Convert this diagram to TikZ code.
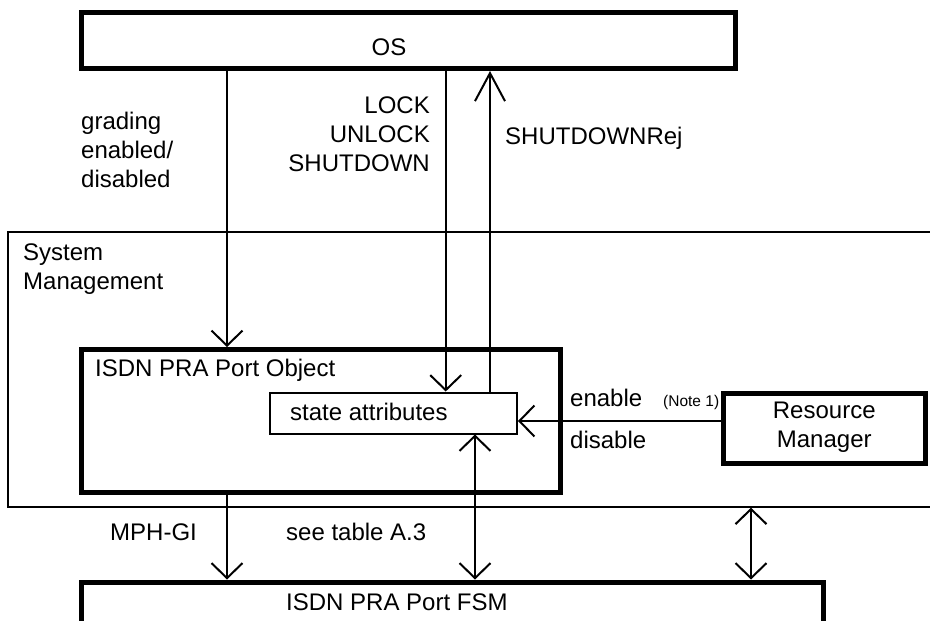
\documentclass[tikz,border=0pt]{standalone}
\usepackage{fontspec}
\setmainfont{Liberation Sans}
\usetikzlibrary{arrows.meta,positioning,fit}

\begin{document}
\begin{tikzpicture}[
    x=1pt, y=-1pt,
    every node/.style={font={\fontsize{24}{29}\selectfont}, inner sep=0pt},
    heavybox/.style={draw, rectangle, line width=5pt},
    lightbox/.style={draw, rectangle, line width=2pt},
    msg/.style={line width=2pt, -{Straight Barb[length=15pt,width=31pt]}},
    dmsg/.style={line width=2pt, {Straight Barb[length=15pt,width=31pt]}-{Straight Barb[length=15pt,width=31pt]}},
    longmsg/.style={line width=2pt, -{Straight Barb[length=28pt,width=30pt]}},
    txt/.style={align=left}
  ]
  \useasboundingbox (0,0) rectangle (930,621);
  \clip (0,0) rectangle (930,621);

  % boxes
  \node[heavybox, fit={(81.5,12.5) (735,68.5)},
  label={[anchor=base, xshift=310pt, yshift=-45pt]north west:OS}] (os) {};

  \node[lightbox, fit={(8,232) (960,506.7)},
  label={[anchor=north west, align=left, xshift=16pt, yshift=-12.3pt]north west:{System\\Management}}] (sm) {};

  \node[heavybox, fit={(81.5,349.5) (560.5,492.5)},
  label={[anchor=base west, xshift=16pt, yshift=-29.7pt]north west:{ISDN PRA Port Object}}] (port) {};

  \node[lightbox, fit={(270,392.5) (517,433.5)},
  label={[anchor=base west, xshift=21pt, yshift=-29.2pt]north west:{state attributes}}] (state) {};

  \node[heavybox, fit={(723.5,393.5) (925,463.5)},
  label={[anchor=north, align=center, yshift=-10.5pt]north:{Resource\\Manager}}] (rm) {};

  \node[heavybox, fit={(81.5,582) (823,670)},
  label={[anchor=base west, xshift=207pt, yshift=-30.5pt]north west:{ISDN PRA Port FSM}}] (fsm) {};

  % where the connectors run
  \coordinate (gradx) at (227,0);
  \coordinate (lockx) at (445.7,0);
  \coordinate (rejx) at (490,0);
  \coordinate (tablex) at (475,0);
  \coordinate (rmx) at (751,0);
  \coordinate (sigy) at (0,421);

  \draw[msg] (gradx |- os.south) -- (gradx |- port.north);
  \draw[msg] (lockx |- os.south) -- (lockx |- state.north);
  \draw[longmsg] (rejx |- state.north) -- (rejx |- os.south);
  \draw[msg] (rm.west |- sigy) -- (state.east |- sigy);
  \draw[msg] (gradx |- port.south) -- (gradx |- fsm.north);
  \draw[dmsg] (tablex |- state.south) -- (tablex |- fsm.north);
  \draw[dmsg] (rmx |- sm.south) -- (rmx |- fsm.north);

  % signal names
  \node[txt, anchor=north west] (gradlbl) at (81,111.5) {grading\\enabled/\\disabled};
  \node[txt, anchor=north east, align=right] (locklbl) at (430,96.8) {LOCK\\UNLOCK\\SHUTDOWN};
  \node[anchor=base west] (rejlbl) at (505,144) {SHUTDOWNRej};
  \node[anchor=base west] (enlbl) at (570,406) {enable};
  \node[anchor=base west, font={\fontsize{15.5}{18}\selectfont}] (notelbl) at (663,406) {(Note 1)};
  \node[anchor=base west] (dislbl) at (570,448) {disable};
  \node[anchor=base west] (mphlbl) at (110,540) {MPH-GI};
  \node[anchor=base west] (tbllbl) at (286,540) {see table A.3};
\end{tikzpicture}
\end{document}
